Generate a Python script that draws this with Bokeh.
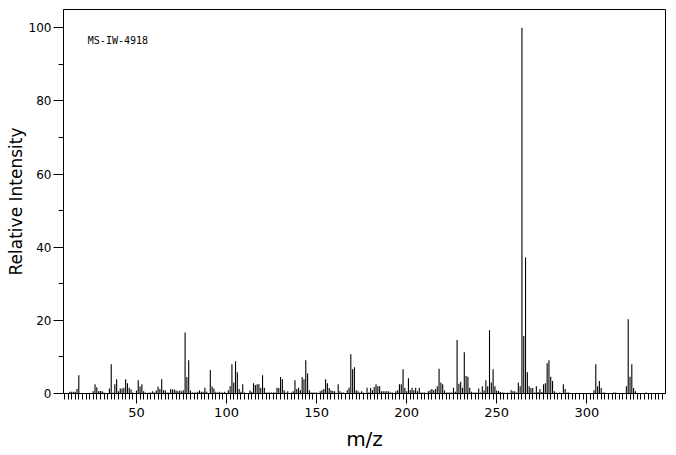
from bokeh.plotting import figure
from bokeh.models import SingleIntervalTicker, Label, Range1d
from bokeh.embed import file_html
from bokeh.resources import INLINE

mz = [13, 14, 15, 16, 17, 18,
      26, 27, 28, 29, 30, 31, 32,
      35, 36, 37, 38, 39, 40, 41, 42, 43, 44, 45, 46, 47, 48,
      50, 51, 52, 53, 54, 55, 57, 58, 59, 60, 61, 62, 63, 64, 65, 66, 67, 68, 69,
      70, 71, 72, 73, 74, 75, 76, 77, 78, 79,
      80, 81, 82, 83, 84, 85, 86, 87, 88, 89, 91, 92, 93, 94, 95, 96, 97, 98, 99,
      101, 102, 103, 104, 105, 106, 107, 108, 109, 110, 113, 114, 115, 116, 117, 118, 119,
      120, 121, 122, 123, 124, 125, 126, 127, 128, 129, 130, 131, 132, 133, 134, 136, 137, 138, 139,
      140, 141, 142, 143, 144, 145, 146, 147, 148, 149, 150, 152, 153, 154, 155, 156, 157, 158, 159,
      160, 162, 163, 164, 165, 167, 168, 169, 170, 171, 172, 173, 174, 175, 176, 178, 179,
      180, 181, 182, 183, 184, 185, 186, 187, 188, 189, 190, 191, 192, 194, 195, 196, 197, 198, 199,
      200, 201, 202, 203, 204, 205, 206, 207, 208, 209, 210, 212, 213, 214, 215, 216, 217, 218, 219,
      220, 221, 222, 223, 224, 225, 226, 227, 228, 229, 230, 231, 232, 233, 234, 235, 236, 237, 238, 239,
      240, 241, 242, 243, 244, 245, 246, 247, 248, 249, 250, 251, 252, 253, 254, 256, 258, 259,
      260, 261, 262, 263, 264, 265, 266, 267, 268, 269, 270, 271, 272, 273, 274, 275, 276, 277, 278, 279,
      280, 281, 282, 283, 285, 287, 288, 289, 290,
      304, 305, 306, 307, 308, 309, 310, 315, 316,
      322, 323, 324, 325, 326, 327, 333]

intensity = [0.5, 0.5, 0.5, 0.5, 1.2, 5.0,
             0.6, 2.5, 1.7, 0.6, 0.7, 0.6, 0.3,
             1.4, 8.0, 0.3, 2.5, 3.9, 0.6, 1.4, 1.4, 1.6, 3.9, 2.8, 1.6, 1.1, 0.3,
             0.8, 3.6, 1.9, 2.5, 0.6, 0.3, 0.3, 0.3, 0.6, 0.3, 0.8, 1.9, 1.2, 3.9, 0.9, 0.9, 0.3, 0.3, 1.2,
             1.1, 1.1, 0.8, 0.6, 0.8, 0.6, 0.9, 16.7, 4.5, 9.1,
             0.8, 0.3, 0.3, 0.3, 0.5, 0.8, 0.5, 0.5, 1.6, 0.5, 6.4, 1.9, 1.4, 0.5, 0.3, 0.5, 0.3, 0.3, 0.5,
             0.9, 2.0, 8.0, 3.0, 8.8, 5.8, 1.2, 0.5, 2.5, 0.3, 0.8, 0.5, 2.8, 2.3, 2.5, 2.5, 1.5,
             5.0, 1.6, 0.3, 0.3, 0.3, 0.3, 0.3, 0.3, 1.6, 1.5, 4.5, 3.9, 0.9, 0.3, 0.6, 0.3, 0.6, 3.6, 1.2,
             1.6, 0.9, 4.5, 3.9, 9.1, 5.5, 0.9, 0.3, 0.3, 0.3, 0.3, 0.6, 0.9, 1.2, 3.9, 2.8, 1.5, 0.9, 0.7,
             0.6, 2.5, 0.6, 0.3, 0.3, 0.9, 1.6, 10.7, 6.6, 7.2, 0.9, 0.6, 0.3, 0.6, 0.3, 1.6, 0.3,
             1.5, 0.9, 1.8, 2.5, 2.0, 2.0, 0.6, 0.6, 0.6, 0.6, 0.6, 0.3, 0.3, 0.6, 0.9, 2.5, 2.5, 6.6, 1.5,
             0.6, 4.2, 0.9, 1.6, 0.9, 1.6, 0.6, 1.5, 0.3, 0.3, 0.3, 0.6, 0.9, 1.2, 0.9, 1.2, 2.0, 6.8, 3.0,
             2.5, 0.8, 0.3, 0.3, 0.3, 0.3, 1.6, 0.5, 14.6, 2.7, 3.2, 1.6, 11.3, 4.8, 4.6, 1.6, 0.5, 0.3, 0.3, 0.3,
             1.4, 0.3, 2.0, 0.8, 3.6, 2.0, 17.3, 3.0, 6.6, 2.0, 0.8, 0.7, 0.4, 0.3, 0.3, 0.3, 0.9, 0.6,
             0.6, 0.3, 3.0, 2.0, 100.0, 15.7, 37.2, 5.8, 2.0, 1.5, 1.5, 0.3, 2.0, 0.4, 1.2, 0.4, 2.5, 2.8, 8.3, 9.1,
             4.6, 3.4, 0.6, 0.3, 0.3, 2.5, 1.2, 0.3, 0.3,
             0.9, 8.0, 2.0, 3.4, 1.5, 0.3, 0.3, 0.3, 0.3,
             2.0, 20.3, 4.6, 8.0, 1.5, 0.6, 0.3]

sample_id = "MS-IW-4918"
x_title = "m/z"
y_title = "Relative Intensity"

p = figure(width=676, height=455, output_backend="svg", toolbar_location=None,
           x_range=Range1d(9.5, 343.7), y_range=Range1d(0, 105),
           min_border_left=63, min_border_right=11, min_border_top=9, min_border_bottom=62)

p.segment(x0=mz, y0=[0] * len(mz), x1=mz, y1=intensity, line_color="black", line_width=1.1)

p.outline_line_color = "black"
p.outline_line_width = 1
p.outline_line_alpha = 1
p.xgrid.visible = False
p.ygrid.visible = False
p.background_fill_color = "white"
p.border_fill_color = "white"

xa = p.xaxis[0]
xa.ticker = SingleIntervalTicker(interval=50, num_minor_ticks=25)
xa.major_tick_out = 10
xa.major_tick_in = 0
xa.minor_tick_out = 6
xa.minor_tick_in = 0
xa.axis_label = x_title
xa.axis_label_text_font = "DejaVu Sans"
xa.axis_label_text_font_size = "20px"
xa.axis_label_text_font_style = "normal"
xa.axis_label_standoff = 7
xa.major_label_text_font = "DejaVu Sans"
xa.major_label_text_font_size = "13px"
xa.major_label_standoff = 4

ya = p.yaxis[0]
ya.ticker = SingleIntervalTicker(interval=20, num_minor_ticks=2)
ya.major_tick_out = 10
ya.major_tick_in = 0
ya.minor_tick_out = 5
ya.minor_tick_in = 0
ya.axis_label = y_title
ya.axis_label_text_font = "DejaVu Sans"
ya.axis_label_text_font_size = "17px"
ya.axis_label_text_font_style = "normal"
ya.axis_label_standoff = 0
ya.major_label_text_font = "DejaVu Sans"
ya.major_label_text_font_size = "12px"
ya.major_label_standoff = 2

for ax in (xa, ya):
    ax.axis_line_color = "black"
    ax.major_tick_line_color = "black"
    ax.minor_tick_line_color = "black"
    ax.major_label_text_color = "black"
    ax.axis_label_text_color = "black"

p.add_layout(Label(x=23, y=96.4, text=sample_id, text_font="DejaVu Sans Mono",
                   text_font_size="10px", text_baseline="middle", text_color="black"))

open("out.html", "w").write(file_html(p, INLINE))
